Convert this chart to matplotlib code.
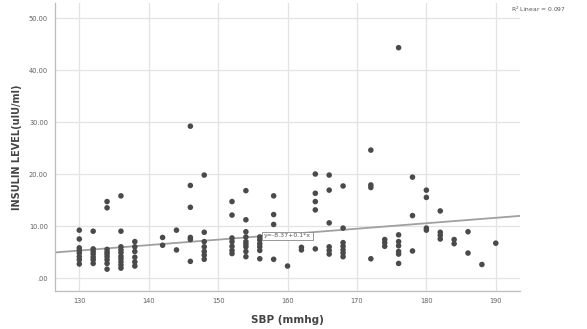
import numpy as np
import matplotlib
matplotlib.use("Agg")
import matplotlib.pyplot as plt

# SBP groups (mmhg) and the insulin readings (uIU/ml) observed in each group
sbp_groups = [130, 132, 134, 136, 138, 142, 144, 146, 148, 152, 154, 156, 158,
              160, 162, 164, 166, 168, 172, 174, 176, 178, 180, 182, 184, 186,
              188, 190]
insulin_by_group = [
    [9.2, 7.5, 5.8, 5.3, 4.8, 4.1, 3.5, 2.7],
    [9.0, 5.6, 5.1, 4.6, 4.0, 3.5, 2.8],
    [14.7, 13.5, 5.5, 5.0, 4.6, 4.1, 3.5, 2.8, 1.7],
    [15.8, 9.0, 6.0, 5.4, 4.9, 4.2, 3.7, 3.1, 2.5, 1.9],
    [7.0, 6.0, 5.1, 4.0, 3.1, 2.3],
    [7.8, 6.3],
    [9.2, 5.4],
    [29.2, 17.8, 13.6, 7.8, 7.4, 3.2],
    [19.8, 8.8, 7.0, 6.0, 5.1, 4.4, 3.6],
    [14.7, 12.1, 7.7, 7.0, 6.1, 5.3, 4.7],
    [16.8, 11.2, 8.9, 7.9, 7.0, 6.5, 6.0, 5.1, 4.1],
    [7.9, 7.3, 6.6, 6.0, 5.3, 3.7],
    [15.8, 12.2, 10.3, 3.6],
    [2.3],
    [5.9, 5.4],
    [20.0, 16.3, 14.7, 13.1, 5.6],
    [19.8, 16.9, 10.6, 6.0, 5.3, 4.6],
    [17.7, 9.6, 6.8, 6.1, 5.4, 4.8, 4.1],
    [24.6, 17.9, 17.4, 3.7],
    [7.4, 6.8, 6.1],
    [44.3, 8.3, 7.0, 6.2, 5.1, 4.6, 2.8],
    [19.4, 12.0, 5.2],
    [16.9, 15.5, 9.6, 9.2],
    [12.9, 8.8, 8.2, 7.5],
    [7.4, 6.6],
    [8.9, 4.8],
    [2.6],
    [6.7],
]

# linear fit shown on the chart
fit_intercept = -8.37
fit_slope = 0.105
fit_label = "y=-8.37+0.1*x"
r2_label = "R$^2$ Linear = 0.097"

x_ticks = [130, 140, 150, 160, 170, 180, 190]
y_ticks = [0, 10, 20, 30, 40, 50]
y_tick_labels = [".00", "10.00", "20.00", "30.00", "40.00", "50.00"]

sbp = np.concatenate([[g] * len(v) for g, v in zip(sbp_groups, insulin_by_group)])
insulin = np.concatenate(insulin_by_group)

fig = plt.figure(figsize=(5.87, 3.29), dpi=100)
ax = fig.add_axes([0.0937, 0.1155, 0.886 - 0.0937, 0.991 - 0.1155])

ax.set_xlim(126.5, 193.5)
ax.set_ylim(-2.5, 52.9)

ax.grid(True, color="#e3e3e3", linewidth=0.9)
ax.set_axisbelow(True)

ax.scatter(sbp, insulin, s=16, color="#4a4a4a", edgecolors="none", zorder=3)

# fit line across the whole x range
xl = np.array(ax.get_xlim())
ax.plot(xl, fit_intercept + fit_slope * xl, color="#a0a0a0", linewidth=1.3, zorder=2)

ax.text(160, 8.1, fit_label, fontsize=4.5, color="#555555", ha="center", va="center",
        zorder=4, bbox=dict(boxstyle="square,pad=0.3", facecolor="white",
                            edgecolor="#888888", linewidth=0.6))

ax.set_xticks(x_ticks)
ax.set_xticklabels([str(t) for t in x_ticks])
ax.set_yticks(y_ticks)
ax.set_yticklabels(y_tick_labels)
ax.tick_params(axis="both", length=0, labelsize=4.8, labelcolor="#606060", pad=5)

for side in ["top", "right"]:
    ax.spines[side].set_visible(False)
for side in ["left", "bottom"]:
    ax.spines[side].set_color("#bdbdbd")
    ax.spines[side].set_linewidth(0.9)

ax.set_xlabel("SBP (mmhg)", fontsize=7.5, fontweight="bold", color="#444444", labelpad=8)
ax.set_ylabel("INSULIN LEVEL(uIU/ml)", fontsize=7, fontweight="bold", color="#444444",
              labelpad=5)

fig.text(0.965, 0.972, r2_label, fontsize=4.3, color="#555555", ha="right", va="center")

fig.savefig("out.png", dpi=100)
